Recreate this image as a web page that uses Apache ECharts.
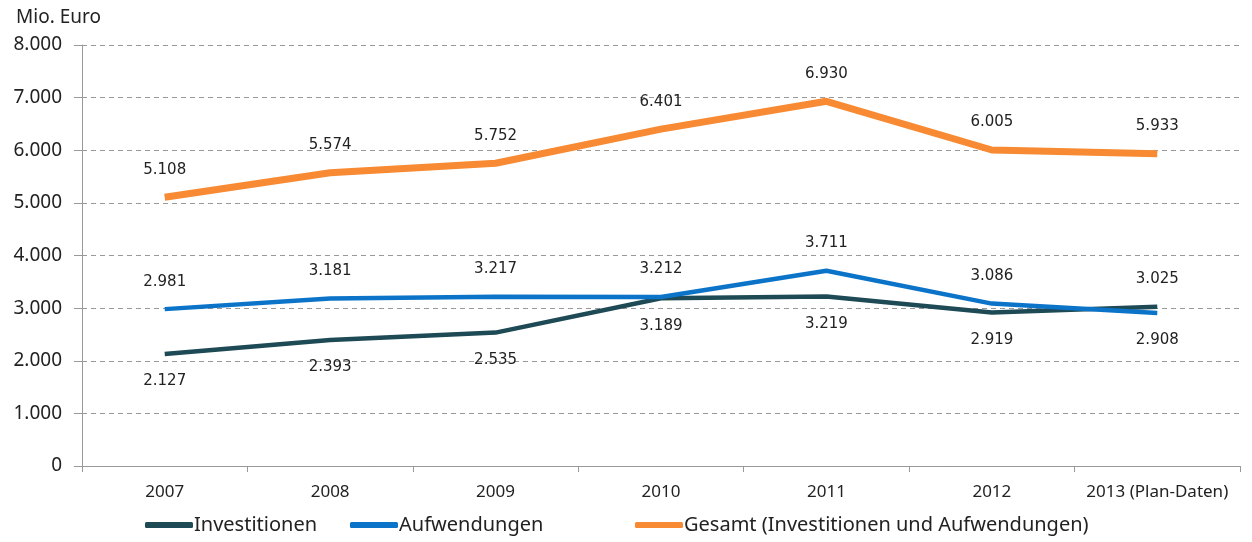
<!DOCTYPE html>
<html>
<head>
<meta charset="utf-8">
<script src="https://cdn.jsdelivr.net/npm/echarts@6/dist/echarts.min.js"></script>
<style>
  html, body { margin: 0; padding: 0; background: #fff; }
  #container { width: 1252px; height: 542px; }
</style>
</head>
<body>
<div id="container"></div>
<script>
let years = ['2007', '2008', '2009', '2010', '2011', '2012', '2013 (Plan-Daten)'];
let investitionen = [2127, 2393, 2535, 3189, 3219, 2919, 3025];
let aufwendungen = [2981, 3181, 3217, 3212, 3711, 3086, 2908];
let gesamt = [5108, 5574, 5752, 6401, 6930, 6005, 5933];

let seriesNames = ['Investitionen', 'Aufwendungen', 'Gesamt (Investitionen und Aufwendungen)'];
let legendLeft = [140, 345, 630];

let chart = echarts.init(document.getElementById('container'));
let font = 'Noto Sans';

function deNum(v) {
    return String(v).replace(/\B(?=(\d{3})+(?!\d))/g, '.');
}

// the higher of the two lower lines gets its label on top
function withLabels(values, other) {
    return values.map((v, i) => ({
        value: v,
        label: { position: v >= other[i] ? 'top' : 'bottom' }
    }));
}

let labelStyle = {
    show: true,
    distance: 20,
    fontFamily: 'DejaVu Sans',
    fontSize: 15,
    color: '#222',
    formatter: p => deNum(p.value)
};

// one legend per item so the gaps can follow the original
let legends = seriesNames.map((name, i) => ({
    bottom: 2,
    left: legendLeft[i],
    itemWidth: 48,
    itemHeight: 6,
    icon: 'roundRect',
    textStyle: { fontFamily: font, fontSize: 20, color: '#222', padding: [0, 0, 0, -4] },
    data: [name]
}));

let option = {
    animation: false,
    title: {
        text: 'Mio. Euro',
        left: 11,
        top: 3,
        textStyle: { fontFamily: font, fontSize: 19, fontWeight: 'normal', color: '#222' }
    },
    legend: legends,
    grid: {
        left: 82,
        right: 12,
        top: 45,
        bottom: 76
    },
    xAxis: {
        type: 'category',
        data: years,
        boundaryGap: true,
        axisLine: { lineStyle: { color: '#999' } },
        axisTick: { show: true, length: 6, lineStyle: { color: '#999' } },
        axisLabel: { fontFamily: font, fontSize: 17, color: '#222', margin: 18, interval: 0 }
    },
    yAxis: {
        type: 'value',
        min: 0,
        max: 8000,
        interval: 1000,
        axisLine: { show: true, lineStyle: { color: '#999' } },
        axisTick: { show: true, length: 8, lineStyle: { color: '#999' } },
        axisLabel: {
            fontFamily: font,
            fontSize: 19,
            color: '#222',
            margin: 20,
            formatter: v => deNum(v)
        },
        splitLine: { lineStyle: { color: '#999', type: [5, 4] } }
    },
    series: [
        {
            name: seriesNames[0],
            type: 'line',
            symbol: 'circle',
            symbolSize: 0,
            color: '#1d4a55',
            lineStyle: { width: 4.5, color: '#1d4a55' },
            label: labelStyle,
            z: 3,
            data: withLabels(investitionen, aufwendungen)
        },
        {
            name: seriesNames[1],
            type: 'line',
            symbol: 'circle',
            symbolSize: 0,
            color: '#0b74c9',
            lineStyle: { width: 4.5, color: '#0b74c9' },
            label: labelStyle,
            z: 4,
            data: withLabels(aufwendungen, investitionen)
        },
        {
            name: seriesNames[2],
            type: 'line',
            symbol: 'circle',
            symbolSize: 0,
            color: '#f78a32',
            lineStyle: { width: 7, color: '#f78a32' },
            label: Object.assign({}, labelStyle, { position: 'top' }),
            z: 5,
            data: gesamt
        }
    ]
};

chart.setOption(option);
</script>
</body>
</html>
